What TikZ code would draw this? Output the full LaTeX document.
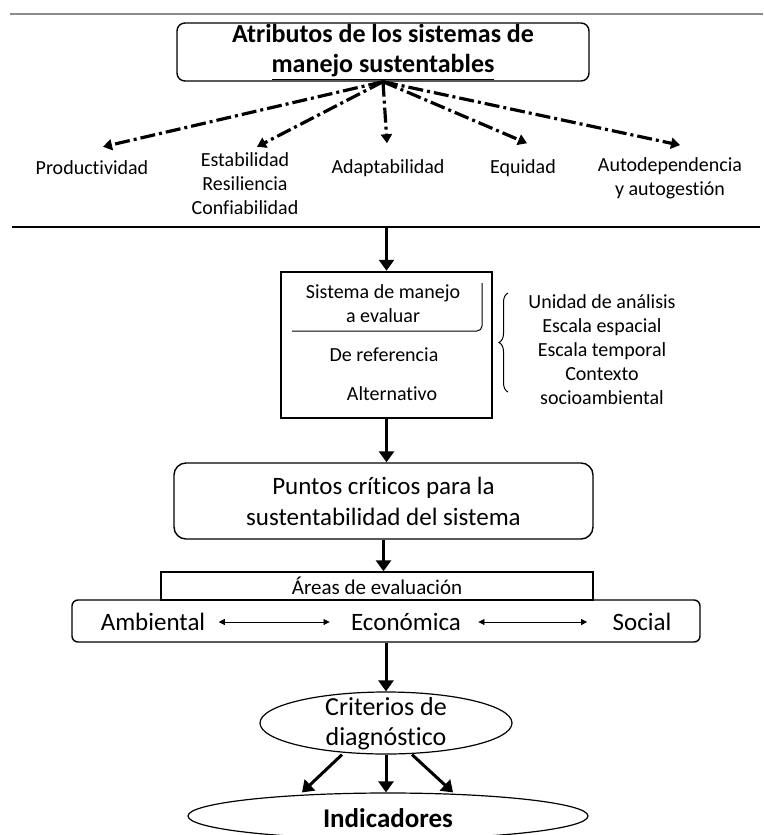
\documentclass[tikz,border=0pt]{standalone}
\usepackage{fontspec}
\setmainfont{Carlito}[Ligatures={NoCommon}]
\usepackage{tikz}
\usetikzlibrary{arrows.meta,positioning,shapes.geometric,decorations.pathreplacing}

\newcommand{\fs}[2]{\fontsize{#1}{#2}\selectfont}

\begin{document}
\begin{tikzpicture}[x=1pt, y=-1pt,
    attr/.style={font=\fs{20}{24}, align=center, inner sep=2pt},
    dashdot/.style={line width=3.2pt, dash pattern=on 15pt off 4pt on 3pt off 4pt,
      -{Triangle[length=9pt,width=11pt]}},
    flow/.style={line width=3pt, -{Triangle[length=11pt,width=15pt]}},
    twoway/.style={line width=0.8pt, {Triangle[length=6pt,width=6pt]}-{Triangle[length=6pt,width=6pt]}},
    box/.style={draw, line width=1.4pt, inner sep=0pt, align=center}]
  \useasboundingbox (0,0) rectangle (763,835);

  % rules across the page
  \coordinate (topL) at (10,14);  \coordinate (topR) at (763,14);
  \coordinate (sepL) at (12,227); \coordinate (sepR) at (760,227);
  \draw[black!45, line width=2pt] (topL) -- (topR);
  \draw[line width=2.5pt] (sepL) -- (sepR);

  % attributes
  \node[box, rounded corners=8pt, minimum width=412pt, minimum height=58pt,
        font=\fs{26}{30}\bfseries] (title) at (383,52)
    {Atributos de los sistemas de\\ \underline{manejo sustentables}};
  \foreach \name/\x/\y/\txt in {prod/92/168/Productividad,
      estab/245/184/Estabilidad\\Resiliencia\\Confiabilidad,
      adapt/388/168/Adaptabilidad, equid/523/168/Equidad,
      auto/670/178/Autodependencia\\y autogestión}
    \node[attr] (\name) at (\x,\y) {\txt};
  \foreach \name/\dx/\dy in {prod/11/-12, estab/12/-4, adapt/-1/-14, equid/4/-14, auto/10/-10}
    \draw[dashdot] (title.south) -- ([shift={(\dx,\dy)}]\name.north);

  % system to evaluate
  \node[draw, line width=2.5pt, minimum width=211pt, minimum height=146pt] (sysbox) at (386.5,345) {};
  \node[attr] (sysA) at (383,304) {Sistema de manejo\\a evaluar};
  \node[attr] (ref) at (384,355) {De referencia};
  \node[attr] (alt) at (392,394) {Alternativo};
  \draw[line width=1pt, rounded corners=5pt] (292,331) -- (482,331) -- (482,283);
  \draw[line width=1pt, decorate, decoration={brace, amplitude=9pt}] (508,392) -- (508,293);
  \node[attr] (scales) at (602,350)
    {Unidad de análisis\\Escala espacial\\Escala temporal\\Contexto\\socioambiental};
  \draw[flow] (sysbox.north |- sepL) -- (sysbox.north);

  % critical points and areas
  \node[box, rounded corners=12pt, minimum width=419pt, minimum height=76pt,
        font=\fs{25}{31}] (puntos) at (383.5,501)
    {Puntos críticos para la\\sustentabilidad del sistema};
  \node[box, minimum width=432pt, minimum height=28pt, font=\fs{21}{24}] (areas) at (377,586)
    {Áreas de evaluación};
  \node[box, rounded corners=6pt, minimum width=628pt, minimum height=42pt] (dims) at (386,621) {};
  \node[font=\fs{25}{30}] (amb) at (153,622) {Ambiental};
  \node[font=\fs{25}{30}] (eco) at (406,622) {Económica};
  \node[font=\fs{25}{30}] (soc) at (642,622) {Social};
  \draw[twoway, shorten <=10pt, shorten >=18pt] (amb.east) -- (eco.west);
  \draw[twoway, shorten <=14pt, shorten >=22pt] (eco.east) -- (soc.west);
  \draw[flow] (sysbox.south) -- (sysbox.south |- puntos.north);
  \draw[flow] (puntos.south) -- (puntos.south |- areas.north);

  % diagnosis
  \node[draw, ellipse, line width=1.2pt, minimum width=252pt, minimum height=62pt] (crit) at (386,723) {};
  \node[font=\fs{26}{30}, align=center] (critT) at (386,724) {Criterios de\\diagnóstico};
  \node[draw, ellipse, line width=1.2pt, minimum width=400pt, minimum height=46pt] (ind) at (388,816) {};
  \node[font=\fs{27}{30}\bfseries] (indT) at (388,818) {Indicadores};
  \draw[flow] (dims.south -| crit.north) -- (crit.north);
  \draw[flow] ([xshift=-44pt]crit.south) -- ([xshift=-86pt]ind.north);
  \draw[flow] (crit.south) -- (crit.south |- ind.north);
  \draw[flow] ([xshift=26pt]crit.south) -- ([xshift=65pt]ind.north);
\end{tikzpicture}
\end{document}
